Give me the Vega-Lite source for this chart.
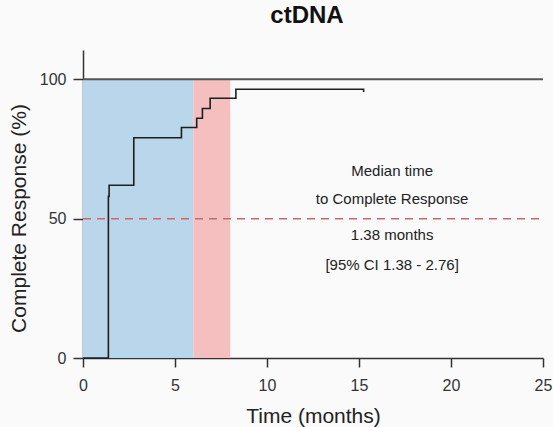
{
  "$schema": "https://vega.github.io/schema/vega-lite/v6.json",
  "autosize": "none",
  "width": 460,
  "height": 308,
  "padding": {"left": 83, "top": 50, "right": 10, "bottom": 69},
  "background": "#fafafa",
  "title": {"text": "ctDNA", "fontSize": 24, "font": "Liberation Sans", "fontWeight": "bold", "color": "#111", "offset": 22, "anchor": "middle", "dx": -6},
  "config": {
    "view": {"stroke": null},
    "axis": {"grid": false, "labelFlush": false, "labelOverlap": false, "domainColor": "#333", "tickColor": "#333", "domainWidth": 1.5, "tickWidth": 1.5, "tickSize": 9, "labelFont": "Liberation Sans", "labelFontSize": 16, "labelColor": "#333", "titleFont": "Liberation Sans", "titleFontSize": 21, "titleFontWeight": "normal", "titleColor": "#222"}
  },
  "datasets": {
    "bands": [
      {"x0": 0, "x1": 6, "y0": 0, "y1": 100, "band": "blue"},
      {"x0": 6, "x1": 8, "y0": 0, "y1": 100, "band": "red"}
    ],
    "km": [
      {"t": 0, "cr": 0},
      {"t": 1.38, "cr": 58},
      {"t": 1.42, "cr": 62},
      {"t": 2.76, "cr": 79},
      {"t": 5.35, "cr": 82.7},
      {"t": 6.18, "cr": 86},
      {"t": 6.49, "cr": 89.5},
      {"t": 6.91, "cr": 93.2},
      {"t": 8.31, "cr": 96.4},
      {"t": 15.22, "cr": 96.4},
      {"t": 15.25, "cr": 95.4}
    ],
    "notes": [
      {"x": 16.8, "y": 67.2, "label": "Median time"},
      {"x": 16.8, "y": 57.0, "label": "to Complete Response"},
      {"x": 16.8, "y": 44.1, "label": "1.38 months"},
      {"x": 16.8, "y": 33.4, "label": "[95% CI 1.38 - 2.76]"}
    ],
    "refs": [
      {"x0": 0, "x1": 25, "y": 100, "kind": "top"},
      {"x0": 0, "x1": 25, "y": 50, "kind": "median"}
    ]
  },
  "layer": [
    {
      "data": {"name": "bands"},
      "mark": {"type": "rect"},
      "encoding": {
        "x": {"field": "x0", "type": "quantitative", "scale": {"domain": [0, 25], "nice": false}, "axis": {"title": "Time (months)", "values": [0, 5, 10, 15, 20, 25], "labelPadding": 10, "titlePadding": 12}},
        "x2": {"field": "x1"},
        "y": {"field": "y0", "type": "quantitative", "scale": {"domain": [0, 110.5], "nice": false}, "axis": {"title": "Complete Response (%)", "values": [0, 50, 100], "tickSize": 10, "labelPadding": 7, "titlePadding": 10, "titleY": 168}},
        "y2": {"field": "y1"},
        "color": {"field": "band", "type": "nominal", "scale": {"domain": ["blue", "red"], "range": ["#bad6ea", "#f6bfbf"]}, "legend": null}
      }
    },
    {
      "data": {"name": "refs"},
      "transform": [{"filter": "datum.kind == 'top'"}],
      "mark": {"type": "rule", "color": "#555", "strokeWidth": 1.8},
      "encoding": {"x": {"field": "x0", "type": "quantitative"}, "x2": {"field": "x1"}, "y": {"field": "y", "type": "quantitative"}}
    },
    {
      "data": {"name": "refs"},
      "transform": [{"filter": "datum.kind == 'median'"}],
      "mark": {"type": "rule", "color": "#b9706a", "strokeWidth": 1.5, "strokeDash": [8, 6]},
      "encoding": {"x": {"field": "x0", "type": "quantitative"}, "x2": {"field": "x1"}, "y": {"field": "y", "type": "quantitative"}}
    },
    {
      "data": {"name": "km"},
      "mark": {"type": "line", "interpolate": "step-after", "color": "#1e1e1e", "strokeWidth": 1.6},
      "encoding": {"x": {"field": "t", "type": "quantitative"}, "y": {"field": "cr", "type": "quantitative"}}
    },
    {
      "data": {"name": "notes"},
      "mark": {"type": "text", "font": "Liberation Sans", "fontSize": 15, "color": "#222", "align": "center", "baseline": "middle"},
      "encoding": {"x": {"field": "x", "type": "quantitative"}, "y": {"field": "y", "type": "quantitative"}, "text": {"field": "label"}}
    }
  ]
}
